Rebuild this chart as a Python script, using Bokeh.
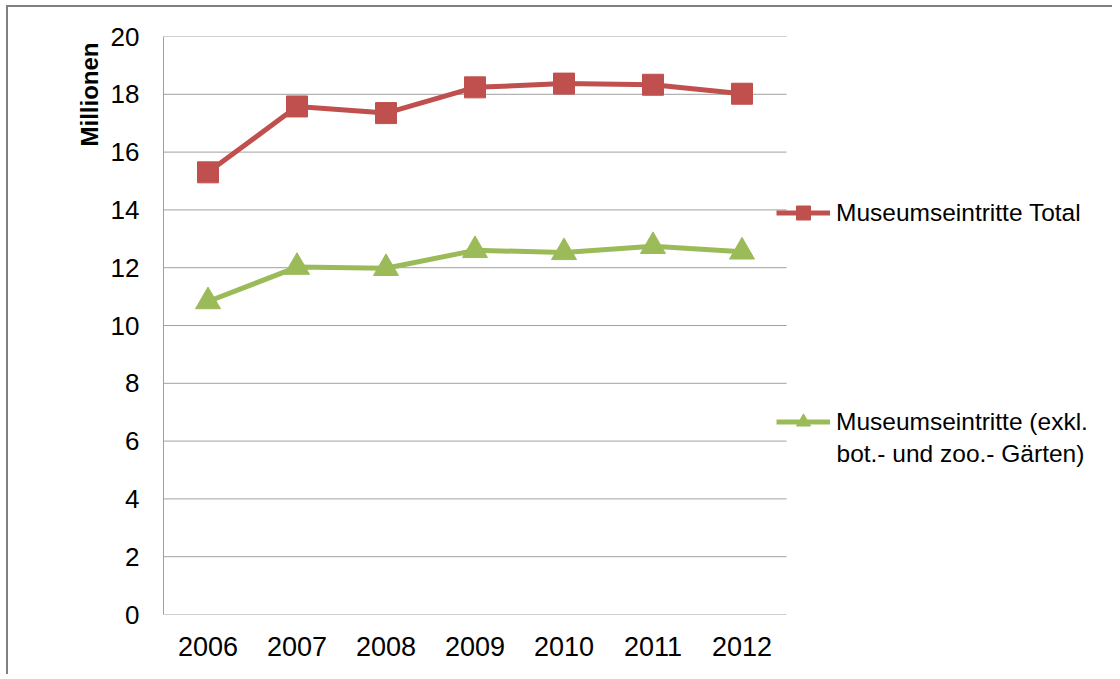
import math
from bokeh.plotting import figure
from bokeh.models import Range1d, Legend, LegendItem, Label, FixedTicker, Title
from bokeh.embed import file_html
from bokeh.resources import INLINE

years = ["2006", "2007", "2008", "2009", "2010", "2011", "2012"]
total = [15.30, 17.58, 17.35, 18.24, 18.37, 18.33, 18.02]
exkl = [10.83, 12.02, 11.98, 12.60, 12.53, 12.74, 12.55]
y_ticks = [0, 2, 4, 6, 8, 10, 12, 14, 16, 18, 20]
name_total = "Museumseintritte Total"
name_exkl_1 = "Museumseintritte (exkl."
name_exkl_2 = "bot.- und zoo.- Gärten)"
y_title = "Millionen"

RED = "#C0504D"
GREEN = "#9BBB59"
GRID = "#a0a0a0"
FONT = "Liberation Sans"

xs = list(range(len(years)))
PX_PER_CAT = 89
FRAME_W = 947
x_lo = -0.5
x_hi_cat = len(years) - 0.5
x_hi = x_lo + FRAME_W / PX_PER_CAT

p = figure(
    x_range=Range1d(x_lo, x_hi),
    y_range=Range1d(0, 20),
    frame_width=FRAME_W, frame_height=578,
    min_border_left=155, min_border_top=29, min_border_right=2, min_border_bottom=60,
    output_backend="svg", toolbar_location=None,
)
p.styles = {"margin-left": "6px", "margin-top": "5px",
            "border-left": "2px solid #808080", "border-top": "2px solid #808080"}
p.outline_line_color = None
p.background_fill_color = "white"
p.border_fill_color = "white"

# horizontal gridlines limited to the category area
p.xgrid.grid_line_color = None
p.ygrid.grid_line_color = None
p.segment(x0=[x_lo] * len(y_ticks), x1=[x_hi_cat] * len(y_ticks), y0=y_ticks, y1=y_ticks,
          line_color=GRID, line_width=1)

p.yaxis.ticker = FixedTicker(ticks=y_ticks)
p.xaxis.ticker = FixedTicker(ticks=xs)
p.xaxis.major_label_overrides = {i: y for i, y in enumerate(years)}

for ax in (p.xaxis[0], p.yaxis[0]):
    ax.axis_line_color = GRID
    ax.axis_line_width = 1
    ax.major_tick_line_color = None
    ax.minor_tick_line_color = None
    ax.major_tick_in = 0
    ax.major_tick_out = 0
    ax.major_label_text_font = FONT
    ax.major_label_text_color = "black"
p.xaxis.axis_line_color = None
p.yaxis.major_label_text_font_size = "26px"
p.xaxis.major_label_text_font_size = "27px"
p.yaxis.major_label_standoff = 24
p.xaxis.major_label_standoff = 22

r_line = p.line(xs, total, line_color=RED, line_width=5)
r_sc = p.scatter(xs, total, marker="square", size=21, fill_color=RED, line_color=RED)
g_line = p.line(xs, exkl, line_color=GREEN, line_width=5)
g_sc = p.scatter(xs, exkl, marker="triangle", size=25, fill_color=GREEN, line_color=GREEN)

legend = Legend(
    items=[LegendItem(label=name_total, renderers=[r_line, r_sc]),
           LegendItem(label=name_exkl_1, renderers=[g_line, g_sc])],
    location=(613, 192 - 17),
    orientation="vertical",
    glyph_width=54, glyph_height=35, label_height=35,
    label_standoff=6, spacing=209 - 35, padding=0, margin=0,
    border_line_color=None, background_fill_alpha=0,
    label_text_font=FONT, label_text_font_size="24.5px", label_text_color="black",
)
p.add_layout(legend)

p.add_layout(Label(x=673, y=161, x_units="screen", y_units="screen", text=name_exkl_2,
                   text_font=FONT, text_font_size="24.5px", text_color="black",
                   text_baseline="middle", text_align="left"))

t = Title(text=y_title, align="right", offset=6, standoff=9,
          text_font=FONT, text_font_size="24px", text_font_style="bold", text_color="black")
p.add_layout(t, "left")

open("out.html", "w").write(file_html(p, INLINE))
